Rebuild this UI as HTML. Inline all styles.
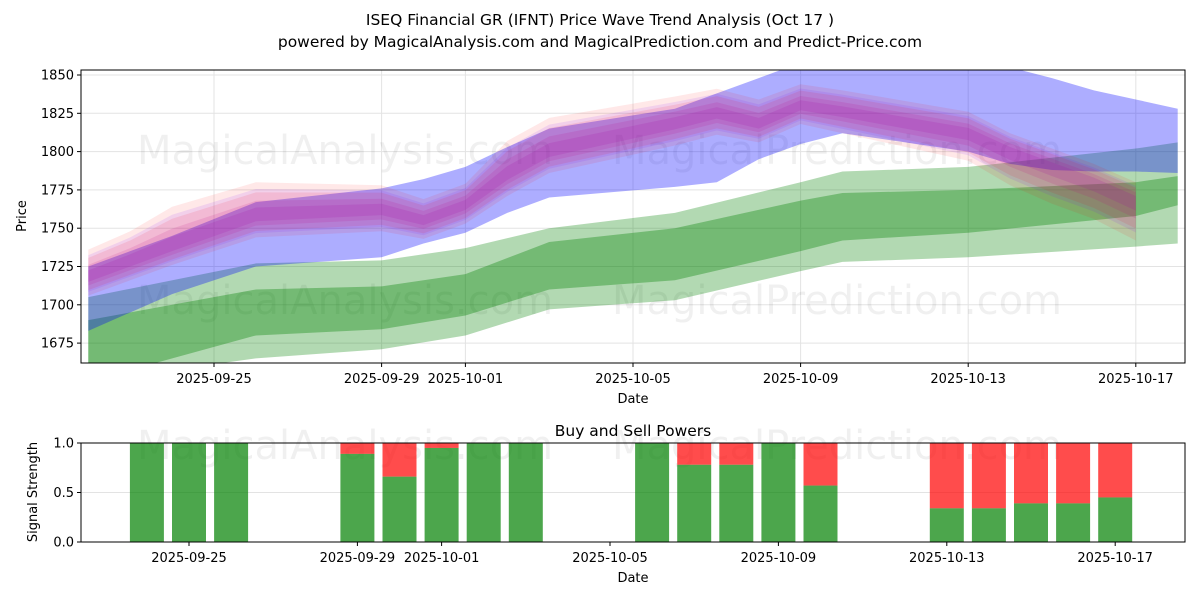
<!DOCTYPE html>
<html><head><meta charset="utf-8"><style>
body{margin:0;background:#fff;}
svg{display:block;font-family:"DejaVu Sans","Liberation Sans",sans-serif;}
</style></head><body>
<svg id="fig" width="1200" height="600" viewBox="0 0 1200 600">
<defs>
<clipPath id="clipTop"><rect x="81" y="70" width="1104" height="293"/></clipPath>
<clipPath id="clipBot"><rect x="81" y="443" width="1104" height="99"/></clipPath>
</defs>
<text x="600" y="25" text-anchor="middle" font-size="15.5" fill="#000">ISEQ Financial GR (IFNT) Price Wave Trend Analysis (Oct 17 )</text>
<text x="600" y="47" text-anchor="middle" font-size="15.5" fill="#000">powered by MagicalAnalysis.com and MagicalPrediction.com and Predict-Price.com</text>
<g id="topg"></g>
<g id="botg"></g>
</svg>
<script>
// ---- price chart data ----
const priceDays = [-3,-2,-1,1,4,5,6,7,8,11,12,13,14,15,18,19,20,21,22,23];
const blueUpper = [1725,1735,1745,1767,1776,1782,1790,1803,1815,1828,1838,1848,1858,1858,1858,1855,1848,1840,1834,1828];
const blueLower = [1683,1695,1707,1725,1731,1740,1747,1760,1770,1777,1780,1795,1805,1812,1800,1792,1788,1787,1787,1786];
const greenDays = [-3,1,4,6,8,11,14,15,18,22,23];
const greenOuterUpper = [1705,1727,1729,1737,1750,1760,1780,1787,1790,1802,1806];
const greenOuterLower = [1650,1665,1671,1680,1697,1703,1722,1728,1731,1738,1740];
const greenInnerUpper = [1690,1710,1712,1720,1741,1750,1768,1773,1775,1780,1784];
const greenInnerLower = [1650,1680,1684,1693,1710,1716,1735,1742,1747,1758,1765];
const waveDays = [-3,-2,-1,1,4,5,6,7,8,11,12,13,14,15,18,19,20,21,22];
const waveCenter = [1718,1728,1738,1758,1762,1755,1765,1785,1800,1818,1825,1818,1830,1826,1812,1800,1790,1780,1768];
const waveUpperSpread = [18,20,26,22,16,14,14,22,22,18,16,16,14,14,14,12,12,12,12];
const waveLowerSpread = [12,12,12,14,14,12,12,14,14,14,14,12,12,14,18,22,24,24,26];
const priceTicks = [1675,1700,1725,1750,1775,1800,1825,1850];
const dateTicks = [0,4,6,10,14,18,22];
const dateLabels = ["2025-09-25","2025-09-29","2025-10-01","2025-10-05","2025-10-09","2025-10-13","2025-10-17"];
// ---- signal chart data ----
const sigDays = [-1,0,1,4,5,6,7,8,11,12,13,14,15,18,19,20,21,22];
const buyPower = [1,1,1,0.89,0.66,0.95,1,1,1,0.78,0.78,1,0.57,0.34,0.34,0.39,0.39,0.45];
const sigTicks = [0,0.5,1.0];

const NS="http://www.w3.org/2000/svg";
function mk(tag,attrs,parent){const e=document.createElementNS(NS,tag);for(const k in attrs)e.setAttribute(k,attrs[k]);parent.appendChild(e);return e;}
const xT=d=>214+41.9*d, yT=v=>75+(1850-v)*1.532;
const xB=d=>189+42.1*d, yB=v=>542-99*v;
const topG=document.getElementById('topg'), botG=document.getElementById('botg');

priceTicks.forEach(v=>{const l=mk('line',{x1:81,x2:1185,y1:yT(v),y2:yT(v),stroke:'#e3e3e3','stroke-width':1},topG);

});
dateTicks.forEach(d=>{const l=mk('line',{x1:xT(d),x2:xT(d),y1:70,y2:363,stroke:'#e3e3e3','stroke-width':1},topG);

});
[["MagicalAnalysis.com",345,150],["MagicalPrediction.com",837,150],["MagicalAnalysis.com",345,300],["MagicalPrediction.com",837,300]].forEach(w=>{
const t=mk('text',{x:w[1],y:w[2]+14,'text-anchor':'middle','font-size':40,fill:'#000','fill-opacity':0.06},topG);t.textContent=w[0];

});

const plot=mk('g',{'clip-path':'url(#clipTop)'},topG);
function band(days,up,lo,fill,op,name){
  let pts=days.map((d,i)=>xT(d)+','+yT(up[i]));
  for(let i=days.length-1;i>=0;i--)pts.push(xT(days[i])+','+yT(lo[i]));
  const p=mk('polygon',{points:pts.join(' '),fill:fill,'fill-opacity':op},plot);
  
  
}
band(greenDays,greenOuterUpper,greenOuterLower,'#008000',0.3,'green-outer-band');
band(greenDays,greenInnerUpper,greenInnerLower,'#008000',0.35,'green-inner-band');
band(priceDays,blueUpper,blueLower,'#0000ff',0.32,'blue-trend-band');
const waveScales=[[1.0,'#ff0000',0.09],[0.7,'#ff0000',0.1],[0.8,'#8000ff',0.1],[0.45,'#c00080',0.13],[0.25,'#a000a0',0.14]];
waveScales.forEach((s,k)=>{
  const up=waveCenter.map((c,i)=>c+waveUpperSpread[i]*s[0]);
  const lo=waveCenter.map((c,i)=>c-waveLowerSpread[i]*s[0]);
  band(waveDays,up,lo,s[1],s[2],'wave-band-'+k);
});
const fr=mk('rect',{x:81,y:70,width:1104,height:293,fill:'none',stroke:'#000','stroke-width':1},topG);


priceTicks.forEach(v=>{mk('line',{x1:77,x2:81,y1:yT(v),y2:yT(v),stroke:'#000'},topG);
const t=mk('text',{x:74,y:yT(v)+4.5,'text-anchor':'end','font-size':13},topG);t.textContent=v;

});
dateTicks.forEach((d,i)=>{mk('line',{x1:xT(d),x2:xT(d),y1:363,y2:367,stroke:'#000'},topG);
const t=mk('text',{x:xT(d),y:383,'text-anchor':'middle','font-size':13},topG);t.textContent=dateLabels[i];

});
let t1=mk('text',{x:633,y:403,'text-anchor':'middle','font-size':13},topG);t1.textContent='Date';


let t2=mk('text',{x:26,y:216,'text-anchor':'middle','font-size':13,transform:'rotate(-90 26 216)'},topG);t2.textContent='Price';



let g5=mk('line',{x1:81,x2:1185,y1:yB(0.5),y2:yB(0.5),stroke:'#e3e3e3'},botG);


[["MagicalAnalysis.com",345],["MagicalPrediction.com",837]].forEach(w=>{
const t=mk('text',{x:w[1],y:459,'text-anchor':'middle','font-size':40,fill:'#000','fill-opacity':0.06},botG);t.textContent=w[0];

});
const bp=mk('g',{'clip-path':'url(#clipBot)'},botG);
sigDays.forEach((d,i)=>{
  const x=xB(d)-17, b=buyPower[i];
  const r1=mk('rect',{x:x,y:yB(1),width:34,height:yB(b)-yB(1),fill:'#ff0000','fill-opacity':0.7},bp);
  
  
  const r2=mk('rect',{x:x,y:yB(b),width:34,height:yB(0)-yB(b),fill:'#008000','fill-opacity':0.7},bp);
  
  
});
const fb=mk('rect',{x:81,y:443,width:1104,height:99,fill:'none',stroke:'#000'},botG);


sigTicks.forEach(v=>{mk('line',{x1:77,x2:81,y1:yB(v),y2:yB(v),stroke:'#000'},botG);
const t=mk('text',{x:74,y:yB(v)+4.5,'text-anchor':'end','font-size':13},botG);t.textContent=v.toFixed(1);

});
dateTicks.forEach((d,i)=>{mk('line',{x1:xB(d),x2:xB(d),y1:542,y2:546,stroke:'#000'},botG);
const t=mk('text',{x:xB(d),y:562,'text-anchor':'middle','font-size':13},botG);t.textContent=dateLabels[i];

});
let t3=mk('text',{x:633,y:436,'text-anchor':'middle','font-size':15.5},botG);t3.textContent='Buy and Sell Powers';


let t4=mk('text',{x:633,y:582,'text-anchor':'middle','font-size':13},botG);t4.textContent='Date';


let t5=mk('text',{x:37,y:492,'text-anchor':'middle','font-size':13,transform:'rotate(-90 37 492)'},botG);t5.textContent='Signal Strength';


</script>
</body></html>
